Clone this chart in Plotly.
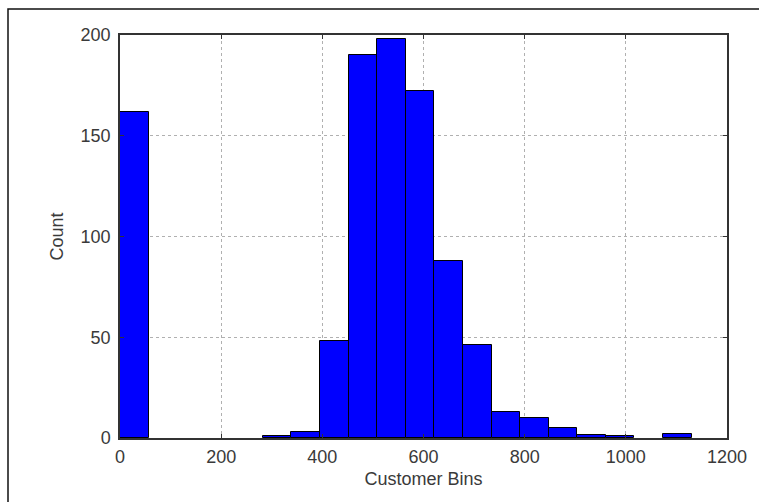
import numpy as np
import plotly.graph_objects as go

# Histogram data (20 equal-width bins from 0 to ~1130)
bin_min = 0
bin_max = 1130
counts = [162, 0, 0, 0, 0, 1, 3, 48, 190, 198, 172, 88, 46, 13, 10, 5, 1.5, 1, 0, 2]
x_ticks = [0, 200, 400, 600, 800, 1000, 1200]
y_ticks = [0, 50, 100, 150, 200]

edges = np.linspace(bin_min, bin_max, len(counts) + 1)
centers = (edges[:-1] + edges[1:]) / 2
widths = np.diff(edges)

W, H = 759, 502
L, R, T, B = 120, 32, 35, 64
pw, ph = W - L - R, H - T - B

fig = go.Figure(go.Bar(
    x=centers, y=counts, width=widths,
    marker=dict(color="#0000ff",
                line=dict(color="#000000", width=[0 if c == 0 else 1 for c in counts])),
))

font = dict(family="Liberation Sans", size=18, color="#3a3a3a")
axis_common = dict(
    showgrid=True, gridcolor="#b0b0b0", griddash="dot", gridwidth=1,
    showline=True, linecolor="#333333", linewidth=1.5, mirror="allticks",
    ticks="inside", ticklen=4, tickcolor="#333333",
    zeroline=False, tickfont=font,
)
fig.update_layout(
    width=W, height=H,
    margin=dict(l=L, r=R, t=T, b=B),
    plot_bgcolor="white", paper_bgcolor="white",
    showlegend=False, bargap=0,
    xaxis=dict(range=[0, 1200], tickvals=x_ticks, ticktext=[str(v) for v in x_ticks],
               ticklabelstandoff=2,
               title=dict(text="Customer Bins", font=font, standoff=6), **axis_common),
    yaxis=dict(range=[0, 200], tickvals=y_ticks, ticktext=[str(v) for v in y_ticks],
               ticklabelstandoff=4,
               title=dict(text="Count", font=font, standoff=12), **axis_common),
    shapes=[dict(
        type="rect", xref="paper", yref="paper",
        x0=(8 - L) / pw, x1=(W + 2 - L) / pw,
        y0=-(H + 2 - (T + ph)) / ph, y1=(T + ph - 9) / ph,
        line=dict(color="#111111", width=1.5), fillcolor="rgba(0,0,0,0)", layer="below",
    )],
)
fig.write_html("out.html")
